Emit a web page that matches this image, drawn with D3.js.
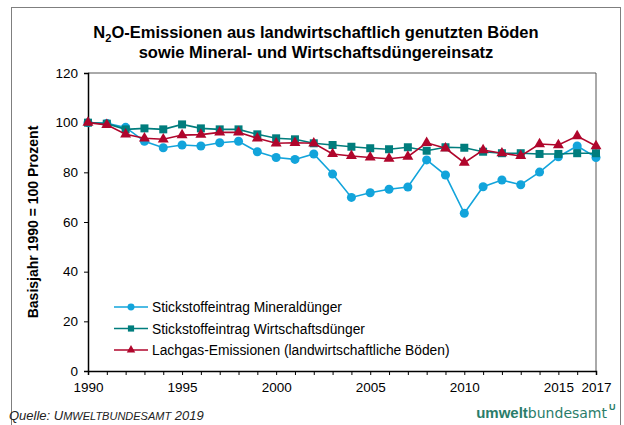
<!DOCTYPE html>
<html>
<head>
<meta charset="utf-8">
<script src="https://cdn.jsdelivr.net/npm/d3@7"></script>
<style>
  body { margin: 0; background: #fff; }
  svg { display: block; font-family: "Liberation Sans", Arial, sans-serif; }
</style>
</head>
<body>
<div id="chart"></div>
<script>
// data (index, 1990 = 100)
const years = [1990, 1991, 1992, 1993, 1994, 1995, 1996, 1997, 1998, 1999,
  2000, 2001, 2002, 2003, 2004, 2005, 2006, 2007, 2008, 2009,
  2010, 2011, 2012, 2013, 2014, 2015, 2016, 2017];

const mineral = [100, 99.7, 98.1, 92.5, 89.9, 91.0, 90.6, 91.9, 92.5, 88.3,
  86.0, 85.2, 87.4, 79.3, 69.9, 71.8, 73.2, 74.1, 85.0, 78.9,
  63.5, 74.2, 76.9, 75.0, 80.1, 86.3, 90.6, 86.0];

const wirtschaft = [100, 99.6, 97.3, 97.7, 97.3, 99.3, 97.7, 97.3, 97.3, 95.3,
  93.7, 93.3, 91.7, 91.0, 90.3, 89.7, 89.3, 90.1, 88.7, 90.1,
  89.9, 88.3, 87.7, 87.7, 87.4, 87.4, 87.7, 87.7];

const lachgas = [100, 99.1, 95.3, 93.7, 93.3, 95.0, 95.2, 96.1, 96.1, 93.7,
  91.7, 91.9, 91.7, 87.4, 86.6, 86.0, 85.5, 86.3, 91.9, 89.7,
  83.9, 89.0, 87.7, 86.6, 91.4, 91.0, 94.6, 90.6];

const seriesNames = ["Stickstoffeintrag Mineraldünger",
  "Stickstoffeintrag Wirtschaftsdünger",
  "Lachgas-Emissionen (landwirtschaftliche Böden)"];

const yTicks = [0, 20, 40, 60, 80, 100, 120];
const xTickLabels = [1990, 1995, 2000, 2005, 2010, 2015, 2017];

const W = 624, H = 425;
const margin = { top: 73, right: 28, bottom: 54, left: 88 };

const svg = d3.select("#chart").append("svg")
  .attr("width", W)
  .attr("height", H);

// outer frame
svg.append("rect")
  .attr("x", 11.5).attr("y", 7.5)
  .attr("width", 609).attr("height", 430)
  .attr("fill", "none")
  .attr("stroke", "#7f7f7f")
  .attr("stroke-width", 1);

// title
const title = svg.append("text")
  .attr("x", 316).attr("y", 38)
  .attr("text-anchor", "middle")
  .style("font-size", "16.5px").style("font-weight", "bold");
title.append("tspan").text("N");
title.append("tspan").attr("dy", 4).style("font-size", "11px").text("2");
title.append("tspan").attr("dy", -4).text("O-Emissionen aus landwirtschaftlich genutzten Böden");

svg.append("text")
  .attr("x", 316).attr("y", 58)
  .attr("text-anchor", "middle")
  .style("font-size", "16.5px").style("font-weight", "bold")
  .text("sowie Mineral- und Wirtschaftsdüngereinsatz");

let x = d3.scaleLinear()
  .domain([1990, 2017])
  .range([margin.left, W - margin.right]);

let y = d3.scaleLinear()
  .domain([0, 120])
  .range([H - margin.bottom, margin.top]);

// plot box (top + right)
svg.append("path")
  .attr("d", "M" + x(1990) + "," + y(120) + "H" + x(2017) + "V" + y(0))
  .attr("fill", "none")
  .attr("stroke", "#555")
  .attr("stroke-width", 1);

// y axis
const yAxis = svg.append("g")
  .attr("transform", "translate(" + x(1990) + ",0)")
  .call(d3.axisLeft(y).tickValues(yTicks).tickSize(4).tickPadding(6));
yAxis.select(".domain").attr("stroke", "#000").attr("stroke-width", 1.5);
yAxis.selectAll("text").style("font-size", "13.5px").attr("fill", "#000");

// x axis
const xAxis = svg.append("g")
  .attr("transform", "translate(0," + y(0) + ")")
  .call(d3.axisBottom(x).tickValues(years).tickSize(4).tickPadding(7)
    .tickFormat(d => xTickLabels.includes(d) ? d : ""));
xAxis.select(".domain").attr("stroke", "#000").attr("stroke-width", 1.5);
xAxis.selectAll("text").style("font-size", "13.5px").attr("fill", "#000");

// y axis title
svg.append("text")
  .attr("transform", "translate(38," + ((y(0) + y(120)) / 2) + ") rotate(-90)")
  .attr("text-anchor", "middle")
  .style("font-size", "14px").style("font-weight", "bold")
  .text("Basisjahr 1990 = 100 Prozent");

const series = [
  { name: seriesNames[0], values: mineral, color: "#12a4db", symbol: d3.symbolCircle, size: 64 },
  { name: seriesNames[1], values: wirtschaft, color: "#007d7d", symbol: d3.symbolSquare, size: 64 },
  { name: seriesNames[2], values: lachgas, color: "#b0062c", symbol: d3.symbolTriangle, size: 52 }
];

const line = d3.line()
  .x(d => x(d[0]))
  .y(d => y(d[1]));

series.forEach(function(s) {
  const pts = years.map((yr, i) => [yr, s.values[i]]);
  svg.append("path")
    .datum(pts)
    .attr("d", line)
    .attr("fill", "none")
    .attr("stroke", s.color)
    .attr("stroke-width", 1.6);

  svg.selectAll(null)
    .data(pts)
    .enter()
    .append("path")
      .attr("d", d3.symbol().type(s.symbol).size(s.size))
      .attr("transform", d => "translate(" + x(d[0]) + "," + y(d[1]) + ")")
      .attr("fill", s.color);
});

// legend
const legend = svg.append("g");
series.forEach(function(s, i) {
  const ly = 307 + i * 21.5;
  legend.append("line")
    .attr("x1", 114).attr("x2", 148)
    .attr("y1", ly).attr("y2", ly)
    .attr("stroke", s.color).attr("stroke-width", 1.6);
  legend.append("path")
    .attr("d", d3.symbol().type(s.symbol).size(s.size * 0.6))
    .attr("transform", "translate(131," + ly + ")")
    .attr("fill", s.color);
  legend.append("text")
    .attr("x", 152).attr("y", ly + 5)
    .style("font-size", "13.8px")
    .text(s.name);
});

// footer (small caps done by hand)
const src = svg.append("text")
  .attr("x", 9).attr("y", 420)
  .style("font-size", "13px").style("font-style", "italic")
  .attr("fill", "#222");
src.append("tspan").text("Quelle: U");
src.append("tspan").style("font-size", "11px").text("MWELTBUNDESAMT");
src.append("tspan").text(" 2019");

const logo = svg.append("text")
  .attr("x", 607).attr("y", 418)
  .attr("text-anchor", "end")
  .style("font-size", "15px")
  .attr("fill", "#2a7d6a");
logo.append("tspan").style("font-weight", "bold").text("umwelt");
logo.append("tspan").style("font-family", "'DejaVu Sans', sans-serif").style("font-size", "14px").text("bundesamt");
svg.append("text")
  .attr("x", 609).attr("y", 410)
  .style("font-size", "9px").style("font-weight", "bold")
  .attr("fill", "#2a7d6a")
  .text("U");
</script>
</body>
</html>
